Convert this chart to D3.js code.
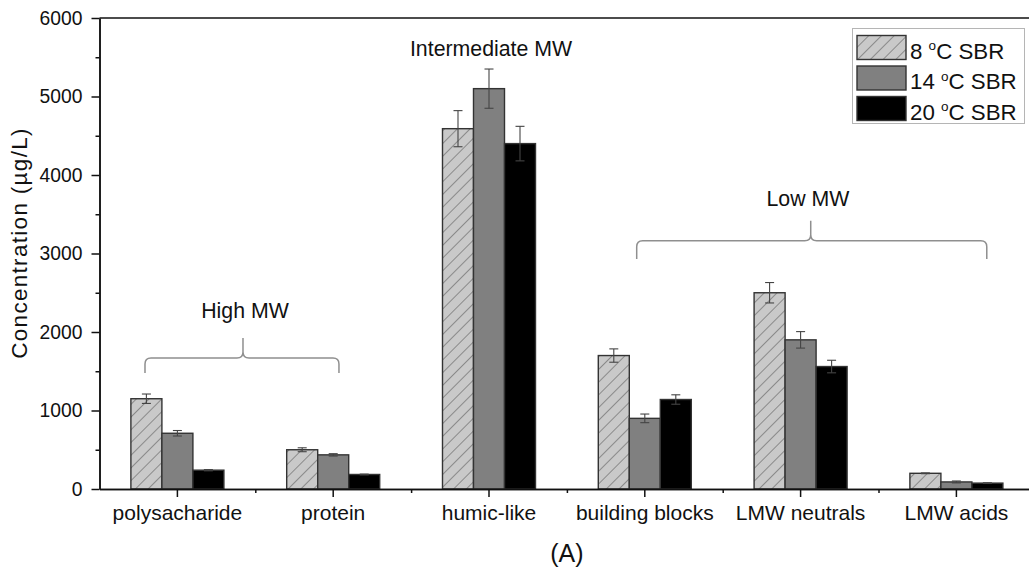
<!DOCTYPE html>
<html>
<head>
<meta charset="utf-8">
<script src="https://cdn.jsdelivr.net/npm/d3@7"></script>
<style>
  body { margin: 0; background: #fff; }
  svg { display: block; }
  text { font-family: "Liberation Sans", Arial, sans-serif; fill: #111; }
</style>
</head>
<body>
<svg id="chart" width="1029" height="571"></svg>
<script>
// Fractions of dissolved organic carbon per reactor temperature
const categories = ["polysacharide", "protein", "humic-like", "building blocks", "LMW neutrals", "LMW acids"];
const seriesNames = ["8", "14", "20"];           // SBR temperature, °C
const sbr8  = [1150, 500, 4590, 1700, 2500, 200];
const sbr14 = [710, 435, 5100, 900, 1900, 90];
const sbr20 = [240, 185, 4400, 1140, 1560, 75];
const err8  = [60, 25, 230, 85, 130, 5];
const err14 = [35, 15, 250, 55, 105, 12];
const err20 = [8, 5, 220, 60, 80, 5];
const yTicks = [0, 1000, 2000, 3000, 4000, 5000, 6000];

// Molecular-weight group annotations (x in category-index units, y in µg/L)
const groupLabels = ["High MW", "Intermediate MW", "Low MW"];
const groupLabelX = [0.434, 2.013, 4.047];
const groupLabelY = [2178, 5516, 3605];
const braceFrom = [-0.208, null, 2.948];
const braceTo   = [1.037, null, 5.195];
const braceTip  = [0.421, null, 4.065];
const braceFlat = [1669, null, 3163];
const braceEnd  = [1478, null, 2930];
const braceTop  = [1924, null, 3417];

const values = [sbr8, sbr14, sbr20];
const errors = [err8, err14, err20];

const plot = { left: 99.5, right: 1034.3, top: 18, bottom: 489 };
const svg = d3.select("#chart");
svg.append("rect").attr("width", 1029).attr("height", 571).attr("fill", "#fff");

const x = d3.scaleBand().domain(categories).range([plot.left, plot.right]);
const xi = d3.scaleLinear().domain([-0.5, categories.length - 0.5]).range([plot.left, plot.right]);
const y = d3.scaleLinear().domain([0, 6000]).range([plot.bottom, plot.top]);
const bw = x.bandwidth();
const inner = d3.scaleBand().domain(seriesNames).range([bw * 0.2015, bw * 0.7985]);

// Fills: hatched light grey, mid grey, black
const defs = svg.append("defs");
const hatch = defs.append("pattern")
  .attr("id", "hatch").attr("patternUnits", "userSpaceOnUse")
  .attr("width", 9).attr("height", 9)
  .attr("patternTransform", "rotate(45)");
hatch.append("rect").attr("width", 9).attr("height", 9).attr("fill", "#c9c9c9");
hatch.append("line").attr("x1", 0).attr("y1", 0).attr("x2", 0).attr("y2", 9)
  .attr("stroke", "#555").attr("stroke-width", 1.1);
const fills = ["url(#hatch)", "#808080", "#000"];

// Bars
const barsG = svg.append("g");
seriesNames.forEach((s, si) => {
  barsG.selectAll(null).data(categories).enter().append("rect")
    .attr("x", c => x(c) + inner(s))
    .attr("y", (c, i) => y(values[si][i]))
    .attr("width", inner.bandwidth())
    .attr("height", (c, i) => y(0) - y(values[si][i]))
    .attr("fill", fills[si])
    .attr("stroke", "#333")
    .attr("stroke-width", 1.4);
});

// Error bars
const errG = svg.append("g").attr("stroke", "#444").attr("stroke-width", 1.1);
seriesNames.forEach((s, si) => {
  categories.forEach((c, i) => {
    const cx = x(c) + inner(s) + inner.bandwidth() / 2;
    const v = values[si][i], e = errors[si][i];
    const g = errG.append("g");
    g.append("line").attr("x1", cx).attr("x2", cx).attr("y1", y(v - e)).attr("y2", y(v + e));
    g.append("line").attr("x1", cx - 4.5).attr("x2", cx + 4.5).attr("y1", y(v + e)).attr("y2", y(v + e));
    g.append("line").attr("x1", cx - 4.5).attr("x2", cx + 4.5).attr("y1", y(v - e)).attr("y2", y(v - e));
  });
});

// Axes
function styleAxis(g) {
  g.selectAll("path, line").attr("stroke", "#111").attr("stroke-width", 1.5);
  g.selectAll("text").attr("fill", "#111");
}
const yAxisG = svg.append("g").attr("transform", `translate(${plot.left},0)`)
  .call(d3.axisLeft(y).tickValues(yTicks).tickSize(8).tickSizeOuter(0).tickPadding(9).tickFormat(d3.format("d")));
yAxisG.selectAll("text").attr("font-size", 19.3).attr("font-family", "Liberation Sans, Arial, sans-serif");
styleAxis(yAxisG);
const yMinorG = svg.append("g").attr("transform", `translate(${plot.left},0)`)
  .call(d3.axisLeft(y).tickValues(d3.range(500, 6000, 1000)).tickSize(4).tickSizeOuter(0).tickFormat(""));
styleAxis(yMinorG);

const xAxisG = svg.append("g").attr("transform", `translate(0,${plot.bottom})`)
  .call(d3.axisBottom(x).tickSize(8).tickSizeOuter(0).tickPadding(8));
xAxisG.selectAll("text").attr("font-size", 21).attr("font-family", "Liberation Sans, Arial, sans-serif");
styleAxis(xAxisG);
const xMinorG = svg.append("g").attr("transform", `translate(0,${plot.bottom})`)
  .call(d3.axisBottom(xi).tickValues(d3.range(0.5, categories.length - 1, 1)).tickSize(4).tickSizeOuter(0).tickFormat(""));
styleAxis(xMinorG);

// Frame: top and right edges
svg.append("line").attr("x1", plot.left).attr("x2", plot.right)
  .attr("y1", plot.top).attr("y2", plot.top).attr("stroke", "#111").attr("stroke-width", 1.5);
svg.append("line").attr("x1", plot.right).attr("x2", plot.right)
  .attr("y1", plot.top).attr("y2", plot.bottom).attr("stroke", "#111").attr("stroke-width", 1.5);

// Axis titles
svg.append("text")
  .attr("transform", "translate(27,243) rotate(-90)")
  .attr("text-anchor", "middle").attr("font-size", 22.5).attr("letter-spacing", 1.3)
  .text("Concentration (µg/L)");
svg.append("text")
  .attr("x", (plot.left + plot.right) / 2).attr("y", 562)
  .attr("text-anchor", "middle").attr("font-size", 25)
  .text("(A)");

// Group braces and labels
function bracePath(x0, x1, xm, yf, yb, yt) {
  const r = 6;
  return `M${x0},${yb} L${x0},${yf + r} Q${x0},${yf} ${x0 + r},${yf} L${xm - r},${yf} Q${xm},${yf} ${xm},${yf - r} L${xm},${yt}` +
         ` M${xm},${yf - r} Q${xm},${yf} ${xm + r},${yf} L${x1 - r},${yf} Q${x1},${yf} ${x1},${yf + r} L${x1},${yb}`;
}
groupLabels.forEach((lab, i) => {
  if (braceFrom[i] !== null) {
    svg.append("path")
      .attr("d", bracePath(xi(braceFrom[i]), xi(braceTo[i]), xi(braceTip[i]),
                           y(braceFlat[i]), y(braceEnd[i]), y(braceTop[i])))
      .attr("fill", "none").attr("stroke", "#8f8f8f").attr("stroke-width", 1.5);
  }
  svg.append("text")
    .attr("x", xi(groupLabelX[i])).attr("y", y(groupLabelY[i]))
    .attr("text-anchor", "middle").attr("font-size", 21.3)
    .text(lab);
});

// Legend
const legend = svg.append("g");
legend.append("rect").attr("x", 852.5).attr("y", 28.5).attr("width", 172).attr("height", 95)
  .attr("fill", "#fff").attr("stroke", "#b5b5b5").attr("stroke-width", 1);
seriesNames.forEach((s, si) => {
  const top = 35.5 + si * 30.5;
  legend.append("rect").attr("x", 857).attr("y", top).attr("width", 49).attr("height", 24)
    .attr("fill", fills[si]).attr("stroke", "#333").attr("stroke-width", 1.4);
  const t = legend.append("text").attr("x", 910).attr("y", top + 23).attr("font-size", 22.3);
  t.append("tspan").text(s + " ");
  t.append("tspan").attr("font-size", 13.5).attr("dy", -8.5).text("o");
  t.append("tspan").attr("dy", 8.5).text("C SBR");
});
</script>
</body>
</html>
